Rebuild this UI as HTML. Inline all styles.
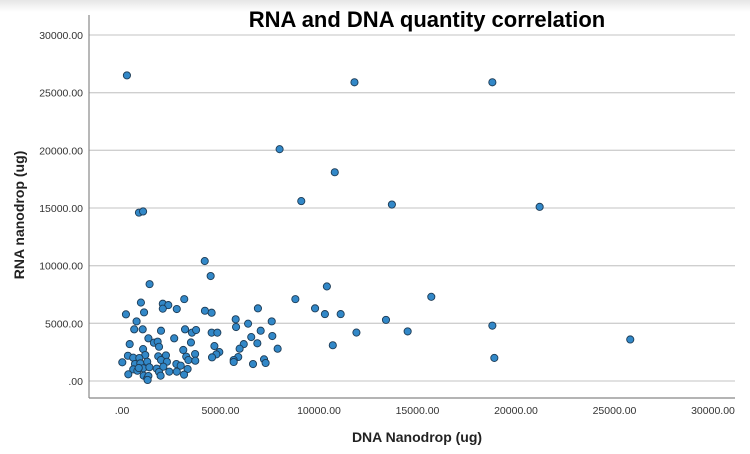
<!DOCTYPE html>
<html><head><meta charset="utf-8"><style>
body{margin:0;background:#fff;width:750px;height:449px;overflow:hidden;font-family:"Liberation Sans",sans-serif}
</style></head><body>
<svg id="chart" width="750" height="449" xmlns="http://www.w3.org/2000/svg">
<defs><linearGradient id="tg" x1="0" y1="0" x2="0" y2="1"><stop offset="0" stop-color="#e6e6e6"/><stop offset="1" stop-color="#fff"/></linearGradient></defs>
<rect width="750" height="12" fill="url(#tg)"/>
<g id="grid"></g>
<g id="axes"></g>
<g id="points"></g>
<text x="427" y="27" text-anchor="middle" font-weight="bold" font-size="22" fill="#000">RNA and DNA quantity correlation</text>
<text x="417" y="442" text-anchor="middle" font-weight="bold" font-size="14" fill="#222">DNA Nanodrop (ug)</text>
<text transform="translate(24,215) rotate(-90)" text-anchor="middle" font-weight="bold" font-size="14" fill="#222">RNA nanodrop (ug)</text>
</svg>
<script>
const xTicks=[0,5000,10000,15000,20000,25000,30000];
const yTicks=[0,5000,10000,15000,20000,25000,30000];
const dnaValues=[250,11800,18800,8000,10800,9100,13700,21200,860,1070,4200,4500,1400,8800,15700,9800,6900,10400,10300,11100,13400,11900,14500,18800,10700,25800,18900,7900,
960,200,1120,2070,2350,2070,3160,2780,4210,4550,5770,5790,6400,7600,740,620,1050,1980,3200,3550,3760,4550,4840,7040,7630,6560,1340,1620,1810,1880,2650,3500,390,4690,6180,5970,6870,1070,1180,3110,3260,3710,4940,4790,4570,300,570,880,1840,2230,1980,2280,5900,5670,5670,15,660,930,1280,6650,7210,7290,2760,3370,3720,570,1080,1390,1760,1880,2100,2400,2780,2980,3330,3150,320,780,1100,1280,1340,1300,1960,850];
const rnaValues=[26500,25900,25900,20100,18100,15600,15300,15100,14600,14700,10400,9100,8400,7100,7300,6300,6300,8200,5800,5800,5300,4200,4300,4800,3100,3600,2000,2800,
6800,5780,5950,6700,6580,6270,7100,6240,6090,5920,5350,4680,4970,5170,5170,4480,4480,4360,4480,4190,4420,4190,4190,4360,3900,3810,3700,3320,3410,2970,3700,3340,3200,3030,3200,2800,3270,2770,2250,2690,2110,2340,2510,2310,2050,2190,2020,1990,2140,2220,1820,1670,2080,1820,1650,1620,1470,1530,1670,1470,1880,1560,1470,1820,1760,1010,1100,1190,1070,780,1240,810,810,1330,1040,550,580,890,460,230,430,90,460,1130];
const NS="http://www.w3.org/2000/svg";
const X0=89,X1=735,Y0=15,Y1=398;
function xs(v){return 122+v*(591/30000);}
function ys(v){return 381-v*(346/30000);}
function mk(tag,attrs,parent){const e=document.createElementNS(NS,tag);for(const k in attrs)e.setAttribute(k,attrs[k]);parent.appendChild(e);return e;}
const grid=document.getElementById('grid'),axes=document.getElementById('axes'),pts=document.getElementById('points');
yTicks.forEach(t=>{
 const l=mk('line',{x1:X0,x2:X1,y1:ys(t),y2:ys(t),stroke:'#cfcfcf','stroke-width':1.3},grid);
 
 
 const tx=mk('text',{x:83,y:ys(t)+4,'text-anchor':'end','font-size':10.5,fill:'#333'},axes);
 tx.textContent=t===0?'.00':t.toFixed(2);
 
 
});
xTicks.forEach(t=>{
 const tx=mk('text',{x:xs(t),y:414,'text-anchor':'middle','font-size':10.5,fill:'#333'},axes);
 tx.textContent=t===0?'.00':t.toFixed(2);
 
 
});
const ya=mk('line',{x1:X0,x2:X0,y1:Y0,y2:Y1,stroke:'#888','stroke-width':1.2},axes);


const xa=mk('line',{x1:X0,x2:X1,y1:Y1,y2:Y1,stroke:'#888','stroke-width':1.2},axes);


dnaValues.forEach((d,i)=>{
 const c=mk('circle',{cx:xs(d),cy:ys(rnaValues[i]),r:3.6,fill:'#3288c8',stroke:'#1d3b55','stroke-width':0.9},pts);
 
 
});
</script>
</body></html>
